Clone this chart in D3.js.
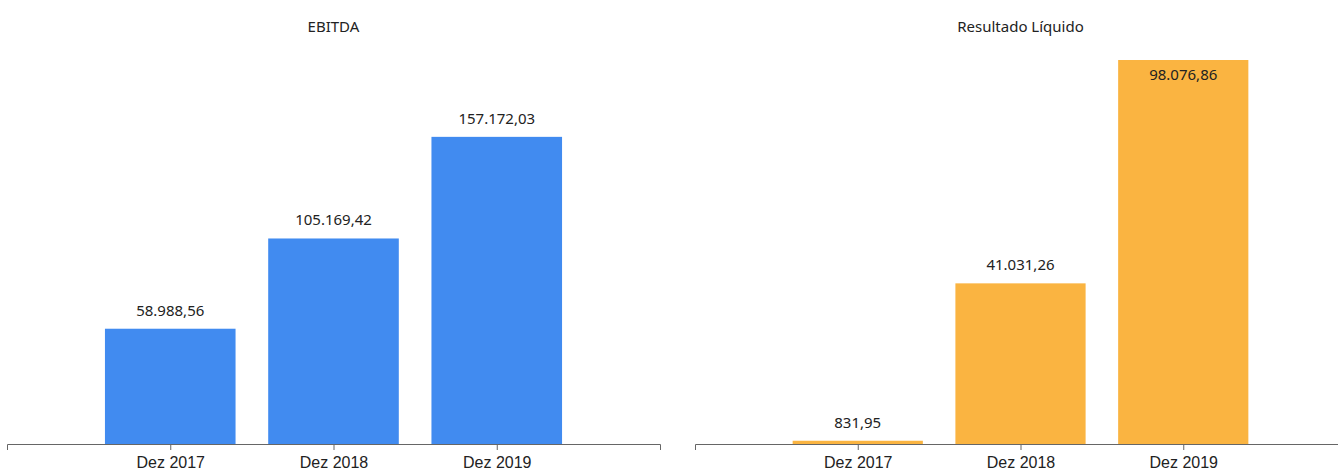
<!DOCTYPE html>
<html>
<head>
<meta charset="utf-8">
<script src="https://cdn.jsdelivr.net/npm/d3@7"></script>
<style>
  body { margin: 0; background: #fff; }
  svg { display: block; font-family: "Segoe UI", "Noto Sans", sans-serif; }
  .axis path, .axis line { stroke: #666; }
  .axis text { font-size: 16px; fill: #222; }
</style>
</head>
<body>
<svg id="chart" width="1338" height="474"></svg>
<script>
let periods = ['Dez 2017', 'Dez 2018', 'Dez 2019'];
let ebitda = [58988.56, 105169.42, 157172.03];
let resultado = [831.95, 41031.26, 98076.86];

let fmt = d3.formatLocale({decimal: ',', thousands: '.', grouping: [3], currency: ['R$', '']}).format(',.2f');

let svg = d3.select('#chart');
let baseY = 444;

function panel(title, values, color, x0, x1, yMax, insideTop) {
  let g = svg.append('g');

  let xScale = d3.scalePoint().domain(periods).range([x0, x1]).padding(1);
  let yScale = d3.scaleLinear().domain([0, yMax]).range([baseY, 60]);
  let barW = xScale.step() * 0.8;

  let xAxis = d3.axisBottom().scale(xScale).tickSize(6).tickSizeOuter(6);
  g.append('g').attr('class', 'axis')
    .attr('transform', `translate(0, ${baseY})`)
    .call(xAxis)
    .selectAll('text').attr('dy', '0.95em');

  g.selectAll('rect')
    .data(values)
    .enter()
    .append('rect')
    .attr('x', (d, i) => xScale(periods[i]) - barW / 2)
    .attr('width', barW)
    .attr('y', d => yScale(d))
    .attr('height', d => baseY - yScale(d))
    .attr('fill', color);

  g.selectAll('text.lbl')
    .data(values)
    .enter()
    .append('text')
    .attr('class', 'lbl')
    .attr('x', (d, i) => xScale(periods[i]))
    .attr('y', d => (insideTop && d === yMax) ? yScale(d) + 20 : yScale(d) - 13)
    .attr('text-anchor', 'middle')
    .attr('font-size', 15)
    .attr('fill', '#222')
    .text(d => fmt(d));

  g.append('text')
    .attr('x', (x0 + x1) / 2)
    .attr('y', 32)
    .attr('text-anchor', 'middle')
    .attr('font-size', 15)
    .attr('fill', '#222')
    .text(title);
}

panel('EBITDA', ebitda, '#418BF0', 7, 660, 196500, false);
panel('Resultado Líquido', resultado, '#FAB441', 695, 1346, d3.max(resultado), true);
</script>
</body>
</html>
